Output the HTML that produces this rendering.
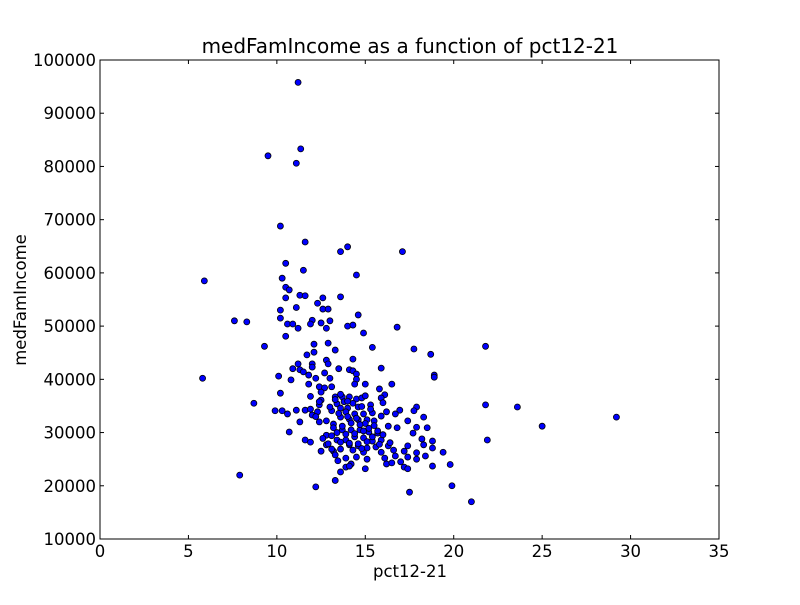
<!DOCTYPE html>
<html><head><meta charset="utf-8"><style>
html,body{margin:0;padding:0;background:#fff;}
svg text{font-family:"DejaVu Sans","Liberation Sans",sans-serif;}
</style></head><body>
<svg id="chart" width="800" height="600" xmlns="http://www.w3.org/2000/svg">
<rect width="800" height="600" fill="#fff"/>
<g id="plot"></g>
</svg>
<script>
const xTicks=[0,5,10,15,20,25,30,35];
const yTicks=[10000,20000,30000,40000,50000,60000,70000,80000,90000,100000];
const xVals=[11.2,9.5,11.1,11.35,10.2,11.6,14.0,13.6,17.1,5.9,5.8,7.6,8.3,9.3,8.7,7.9,21.8,21.8,21.9,23.6,25.0,29.2,21.0,19.9,19.8,18.9,18.9,18.7,17.75,17.5,12.2,13.3,14.5,14.6,16.8,15.4,
10.5,11.5,10.3,10.5,10.7,10.5,11.3,11.6,12.6,13.6,12.3,12.6,12.9,11.1,10.2,10.2,12.0,13.0,11.9,10.6,10.9,12.5,14.0,14.3,11.2,12.8,14.9,10.5,12.1,12.9,12.1,11.7,13.3,14.3,12.8,12.9,11.2,12.0,12.0,10.9,11.3,11.5,14.1,13.5,14.3,14.5,15.9,11.8,12.7,10.1,10.8,12.2,13.0,14.5,15.0,14.4,11.8,12.4,12.7,13.1,16.5,10.2,12.5,15.8,16.1,15.9,12.5,13.3,13.7,14.1,14.5,14.8,12.4,13.4,13.6,14.0,14.6,15.3,16.2,16.95,17.9,17.75,11.6,11.1,11.9,12.3,9.9,10.3,10.6,12.0,13.1,13.9,14.4,14.9,15.4,15.9,18.3,16.7,17.4,13.6,14.1,14.6,15.1,15.5,12.8,13.2,11.3,12.4,16.3,16.8,17.9,18.5,10.7,13.7,14.2,14.7,15.2,15.7,17.7,12.8,13.1,14.4,13.4,13.9,14.9,15.4,15.9,18.2,18.8,11.6,11.9,12.8,14.1,14.6,15.1,15.6,16.3,17.4,18.3,18.8,13.6,12.5,13.2,14.3,14.9,15.9,16.6,17.2,17.9,19.4,16.1,16.7,17.4,13.9,13.3,14.5,15.1,18.4,17.9,13.45,17.0,16.2,16.5,14.2,13.9,15.0,17.2,17.4,13.6,18.8,14.1,
13.3,13.8,14.3,14.8,15.3,13.5,14.0,14.5,15.0,15.5,13.2,13.7,14.2,14.7,15.2,15.7,13.4,13.9,14.4,14.9,15.4,13.6,14.1,14.6,15.1,12.9,13.1,15.8,16.0,16.4,12.6,12.2,13.0,14.0,15.0,16.0,11.9,12.4,13.6,14.8];
const yVals=[95800,82000,80600,83300,68800,65800,64900,64000,64000,58500,40200,51000,50800,46200,35500,22000,46200,35200,28600,34800,31200,32900,17000,20000,24000,40800,40400,44700,45700,18800,19800,21000,59600,52100,49800,46000,
61800,60500,59000,57300,56800,55300,55800,55700,55300,55500,54300,53200,53200,53500,53000,51500,51100,51000,50400,50400,50400,50600,50000,50200,49600,49600,48700,48100,46600,46800,45100,44600,45500,43800,43600,42900,42900,42900,42300,42000,41800,41400,41800,42000,41600,41000,42100,40800,41200,40600,39900,40200,40200,40000,39100,39100,39100,38600,38400,38600,39100,37400,37600,38200,37100,36500,36100,36700,36700,36700,36300,36500,35200,35400,34600,34600,34800,35200,33900,34200,34800,34100,34200,34200,34400,33900,34100,34100,33500,33300,34100,33900,33500,33500,33700,33100,32900,33500,32200,32900,32500,32400,32400,32200,32200,31600,32000,32000,31200,30900,31000,30900,30100,30500,30500,30500,30100,29900,29900,29500,29400,29200,28600,28600,29000,28400,28600,28800,28400,28600,28200,27700,27700,27500,27100,27300,27500,27500,27700,27100,26900,26500,26500,26700,26300,26300,26700,26500,26200,26300,25200,25600,25400,25200,25800,25400,25000,25600,25000,24700,24500,24100,24300,24100,23500,23200,23500,23200,22600,23700,23700,
36200,35800,35500,34900,34400,33600,33000,32700,31700,31300,30900,31200,31800,31500,30800,30300,30000,29700,29800,30300,29200,28200,28000,27900,28300,27900,26900,27800,29600,28100,28900,33000,34800,35900,36900,35600,36800,35800,37200,27000];
const NS='http://www.w3.org/2000/svg';
const L=100,R=719,T=60,B=539;
function sx(v){return L+(v-0)/(35-0)*(R-L);}
function sy(v){return B-(v-10000)/(100000-10000)*(B-T);}
const g=document.getElementById('plot');
function mk(tag,attrs){const e=document.createElementNS(NS,tag);for(const k in attrs)e.setAttribute(k,attrs[k]);g.appendChild(e);return e;}
for(let i=0;i<xVals.length;i++){
  const c=mk('circle',{cx:sx(xVals[i]),cy:sy(yVals[i]),r:3,fill:'#0000ff',stroke:'#000','stroke-width':0.8});
  
  
}
const frame=mk('rect',{x:L,y:T,width:R-L,height:B-T,fill:'none',stroke:'#000','stroke-width':1});


xTicks.forEach(v=>{
  const x=sx(v);
  mk('line',{x1:x,y1:B,x2:x,y2:B-4,stroke:'#000'});
  mk('line',{x1:x,y1:T,x2:x,y2:T+4,stroke:'#000'});
  const t=mk('text',{x:x,y:B+18,'text-anchor':'middle','font-size':16.5});
  t.textContent=v;
  
  
});
yTicks.forEach(v=>{
  const y=sy(v);
  mk('line',{x1:L,y1:y,x2:L+4,y2:y,stroke:'#000'});
  mk('line',{x1:R,y1:y,x2:R-4,y2:y,stroke:'#000'});
  const t=mk('text',{x:L-4,y:y+6,'text-anchor':'end','font-size':16.5});
  t.textContent=v;
  
  
});
const ti=mk('text',{x:410,y:53,'text-anchor':'middle','font-size':20});
ti.textContent='medFamIncome as a function of pct12-21';


const xl=mk('text',{x:410,y:577,'text-anchor':'middle','font-size':16.5});
xl.textContent='pct12-21';


const yl=mk('text',{x:0,y:0,'text-anchor':'middle','font-size':16.5,transform:'translate(26,300) rotate(-90)'});
yl.textContent='medFamIncome';


</script>
</body></html>
